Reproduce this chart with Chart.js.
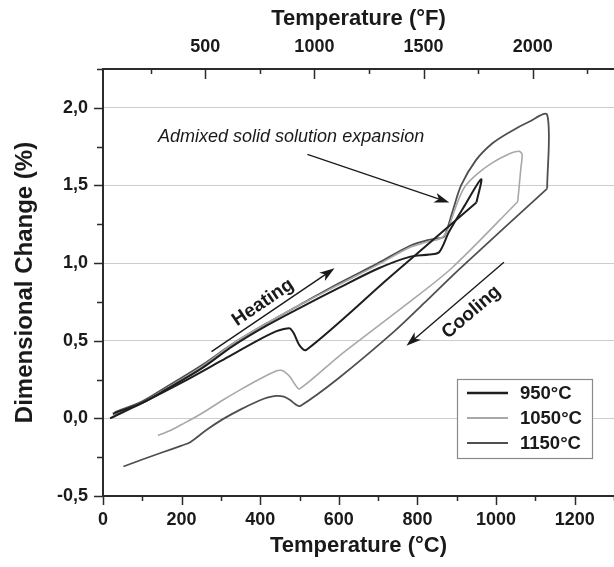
<!DOCTYPE html>
<html>
<head>
<meta charset="utf-8">
<script src="https://cdn.jsdelivr.net/npm/chart.js@4.4.1/dist/chart.umd.min.js"></script>
<style>
  html, body { margin: 0; padding: 0; background: #fff; }
</style>
</head>
<body>
<canvas id="chart-dil" width="614" height="567"></canvas>
<script>
// values: temperature (°C) and dimensional change (%)
const heat950T = [25, 100, 160, 250, 330, 415, 500, 600, 700, 780, 830, 855, 880, 920, 962, 950];
const heat950D = [0.03, 0.10, 0.185, 0.32, 0.465, 0.595, 0.71, 0.84, 0.965, 1.04, 1.055, 1.07, 1.20, 1.37, 1.54, 1.39];
const cool950T = [950, 730, 517, 500, 485, 475, 460, 440, 400, 300, 200, 100, 18];
const cool950D = [1.39, 0.91, 0.44, 0.47, 0.55, 0.58, 0.575, 0.56, 0.51, 0.37, 0.23, 0.10, 0.0];

const heat1050T = [25, 100, 160, 250, 330, 415, 500, 600, 700, 780, 830, 860, 876, 900, 920, 950, 990, 1030, 1058, 1066, 1063, 1055];
const heat1050D = [0.02, 0.10, 0.19, 0.33, 0.48, 0.61, 0.73, 0.86, 0.99, 1.10, 1.14, 1.16, 1.21, 1.38, 1.49, 1.57, 1.645, 1.70, 1.72, 1.70, 1.61, 1.395];
const cool1050T = [1055, 888, 775, 600, 500, 488, 475, 462, 453, 440, 400, 350, 300, 250, 200, 170, 140];
const cool1050D = [1.395, 0.97, 0.74, 0.40, 0.19, 0.22, 0.27, 0.30, 0.31, 0.305, 0.255, 0.185, 0.11, 0.03, -0.04, -0.08, -0.11];

const heat1150T = [30, 100, 160, 250, 330, 415, 500, 600, 700, 780, 830, 855, 868, 889, 911, 948, 990, 1032, 1084, 1130, 1130];
const heat1150D = [0.04, 0.11, 0.20, 0.34, 0.48, 0.61, 0.73, 0.87, 1.00, 1.11, 1.15, 1.16, 1.17, 1.33, 1.50, 1.66, 1.77, 1.84, 1.91, 1.955, 1.48];
const cool1150T = [1130, 906, 816, 741, 600, 502, 490, 475, 460, 441, 420, 398, 348, 305, 263, 221, 200, 150, 100, 52];
const cool1150D = [1.48, 0.96, 0.74, 0.56, 0.26, 0.08, 0.09, 0.12, 0.14, 0.145, 0.135, 0.115, 0.055, -0.005, -0.075, -0.155, -0.175, -0.22, -0.265, -0.31];

const seriesNames = ['950°C', '1050°C', '1150°C'];
const seriesColors = ['#1e1e1e', '#a8a8a8', '#4f4f4f'];
const seriesWidths = [2, 1.6, 1.8];

// top axis in °F
const fahrenheitTicks = [250, 500, 750, 1000, 1250, 1500, 1750, 2000, 2250];

const FONT = "'Liberation Sans', Arial, sans-serif";
const INK = '#1a1a1a';

const toPoints = (t, d) => t.map((v, i) => ({ x: v, y: d[i] }));

function curve(i, t, d) {
    return {
        label: seriesNames[i],
        data: toPoints(t, d),
        borderColor: seriesColors[i],
        borderWidth: seriesWidths[i],
        showLine: true,
        pointRadius: 0,
        tension: 0.3,
        fill: false,
        xAxisID: 'x',
        yAxisID: 'y'
    };
}

const isMajorY = v => Math.abs(v * 2 - Math.round(v * 2)) < 1e-6;

// tick marks, major ones longer
const axisTicks = {
    id: 'axisTicks',
    afterDraw(chart) {
        const { ctx, chartArea: a, scales: { x, x2, y } } = chart;
        ctx.save();
        ctx.strokeStyle = '#2b2b2b';
        ctx.lineWidth = 1.5;
        ctx.beginPath();
        x.ticks.forEach(t => {
            const px = Math.round(x.getPixelForValue(t.value)) + 0.5;
            const len = t.value % 200 === 0 ? 9 : 5;
            ctx.moveTo(px, a.bottom);
            ctx.lineTo(px, a.bottom + len);
        });
        x2.ticks.forEach(t => {
            const px = Math.round(x2.getPixelForValue(t.value)) + 0.5;
            const len = t.value % 500 === 0 ? 10 : 5;
            ctx.moveTo(px, a.top);
            ctx.lineTo(px, a.top + len);
        });
        y.ticks.forEach(t => {
            const py = Math.round(y.getPixelForValue(t.value)) + 0.5;
            const len = isMajorY(t.value) ? 9 : 6;
            ctx.moveTo(a.left, py);
            ctx.lineTo(a.left - len, py);
        });
        ctx.stroke();
        ctx.restore();
    }
};

function arrow(ctx, x0, y0, x1, y1) {
    const ang = Math.atan2(y1 - y0, x1 - x0);
    ctx.beginPath();
    ctx.moveTo(x0, y0);
    ctx.lineTo(x1 - 9 * Math.cos(ang), y1 - 9 * Math.sin(ang));
    ctx.stroke();
    ctx.save();
    ctx.translate(x1, y1);
    ctx.rotate(ang);
    ctx.beginPath();
    ctx.moveTo(0, 0);
    ctx.lineTo(-15, -5);
    ctx.lineTo(-11, 0);
    ctx.lineTo(-15, 5);
    ctx.closePath();
    ctx.fill();
    ctx.restore();
}

// arrows and labels inside the plot
const notes = {
    id: 'notes',
    afterDatasetsDraw(chart) {
        const { ctx, scales: { x, y } } = chart;
        const P = (t, v) => [x.getPixelForValue(t), y.getPixelForValue(v)];
        ctx.save();
        ctx.strokeStyle = INK;
        ctx.fillStyle = INK;
        ctx.lineWidth = 1.4;

        // heating
        const h0 = P(276, 0.43), h1 = P(589, 0.966);
        arrow(ctx, h0[0], h0[1], h1[0], h1[1]);
        const hc = P(407, 0.746);
        ctx.save();
        ctx.translate(hc[0], hc[1]);
        ctx.rotate(Math.atan2(h1[1] - h0[1], h1[0] - h0[0]));
        ctx.font = 'bold 19px ' + FONT;
        ctx.textAlign = 'center';
        ctx.textBaseline = 'middle';
        ctx.fillText('Heating', 0, 0);
        ctx.restore();

        // cooling
        const c0 = P(1020, 1.006), c1 = P(772, 0.467);
        arrow(ctx, c0[0], c0[1], c1[0], c1[1]);
        const cc = P(937, 0.684);
        ctx.save();
        ctx.translate(cc[0], cc[1]);
        ctx.rotate(Math.atan2(c0[1] - c1[1], c0[0] - c1[0]));
        ctx.font = 'bold 19px ' + FONT;
        ctx.textAlign = 'center';
        ctx.textBaseline = 'middle';
        ctx.fillText('Cooling', 0, 0);
        ctx.restore();

        // admixed solid solution expansion
        const a0 = P(520, 1.70), a1 = P(881, 1.39);
        ctx.lineWidth = 1.2;
        arrow(ctx, a0[0], a0[1], a1[0], a1[1]);
        const at = P(140, 1.81);
        ctx.font = 'italic 18px ' + FONT;
        ctx.textAlign = 'left';
        ctx.textBaseline = 'middle';
        ctx.fillText('Admixed solid solution expansion', at[0], at[1]);
        ctx.restore();
    }
};

// legend box in the lower right
const boxLegend = {
    id: 'boxLegend',
    afterDraw(chart) {
        const { ctx, chartArea: a } = chart;
        const bx = a.right - 157, by = a.bottom - 117, bw = 135, bh = 79;
        ctx.save();
        ctx.fillStyle = '#fff';
        ctx.fillRect(bx, by, bw, bh);
        ctx.strokeStyle = '#8a8a8a';
        ctx.lineWidth = 1.2;
        ctx.strokeRect(bx + 0.5, by + 0.5, bw, bh);
        ctx.font = 'bold 18.5px ' + FONT;
        ctx.textBaseline = 'middle';
        ctx.textAlign = 'left';
        seriesNames.forEach((name, i) => {
            const ly = by + 14 + i * 25;
            ctx.strokeStyle = seriesColors[i];
            ctx.lineWidth = seriesWidths[i] + 0.4;
            ctx.beginPath();
            ctx.moveTo(bx + 10, ly);
            ctx.lineTo(bx + 51, ly);
            ctx.stroke();
            ctx.fillStyle = INK;
            ctx.fillText(name, bx + 63, ly + 1);
        });
        ctx.restore();
    }
};

// fixed box sizes so the plot area sits where it does in the figure
function fixHorizontal(h) {
    return s => {
        s.height = h;
        s.paddingLeft = 0;
        s.paddingRight = 0;
    };
}

let chartDil = document.getElementById('chart-dil').getContext('2d');

let dilChart = new Chart(chartDil, {
    type: 'scatter',
    data: {
        datasets: [
            curve(0, heat950T, heat950D),
            curve(0, cool950T, cool950D),
            curve(1, heat1050T, heat1050D),
            curve(1, cool1050T, cool1050D),
            curve(2, heat1150T, heat1150D),
            curve(2, cool1150T, cool1150D)
        ]
    },
    options: {
        responsive: false,
        animation: false,
        layout: { padding: 0 },
        plugins: {
            legend: { display: false },
            tooltip: { enabled: false }
        },
        scales: {
            x: {
                type: 'linear',
                position: 'bottom',
                min: 0,
                max: 1300,
                afterFit: fixHorizontal(71),
                ticks: {
                    stepSize: 100,
                    autoSkip: false,
                    maxRotation: 0,
                    padding: 13,
                    color: INK,
                    font: { family: FONT, size: 18, weight: 'bold' },
                    callback: v => (v % 200 === 0 ? v : '')
                },
                grid: { display: false, drawTicks: false },
                border: { display: true, color: '#2b2b2b', width: 2 },
                title: {
                    display: true,
                    text: 'Temperature (°C)',
                    color: INK,
                    font: { family: FONT, size: 22, weight: 'bold' },
                    padding: { top: 0, bottom: 8 }
                }
            },
            x2: {
                type: 'linear',
                position: 'top',
                min: 32,
                max: 2372,
                afterFit: fixHorizontal(69),
                afterBuildTicks: s => { s.ticks = fahrenheitTicks.map(v => ({ value: v })); },
                ticks: {
                    autoSkip: false,
                    maxRotation: 0,
                    padding: 11,
                    color: INK,
                    font: { family: FONT, size: 18, weight: 'bold' },
                    callback: v => (v % 500 === 0 ? v : '')
                },
                grid: { display: false, drawTicks: false },
                border: { display: true, color: '#2b2b2b', width: 2 },
                title: {
                    display: true,
                    text: 'Temperature (°F)',
                    color: INK,
                    font: { family: FONT, size: 22, weight: 'bold' },
                    padding: { top: 6, bottom: 0 }
                }
            },
            y: {
                type: 'linear',
                position: 'left',
                min: -0.5,
                max: 2.25,
                afterFit: s => {
                    s.width = 103;
                    s.paddingTop = 0;
                    s.paddingBottom = 0;
                },
                ticks: {
                    stepSize: 0.25,
                    autoSkip: false,
                    padding: 15,
                    color: INK,
                    font: { family: FONT, size: 18, weight: 'bold' },
                    callback: v => (isMajorY(v) ? v.toFixed(1).replace('.', ',') : '')
                },
                grid: {
                    drawTicks: false,
                    lineWidth: 1,
                    color: c => (c.tick && isMajorY(c.tick.value) && c.tick.value > -0.4 ? '#cdcdcd' : 'rgba(0,0,0,0)')
                },
                border: { display: true, color: '#2b2b2b', width: 2 },
                title: {
                    display: true,
                    text: 'Dimensional Change (%)',
                    color: INK,
                    font: { family: FONT, size: 24, weight: 'bold' },
                    padding: { top: 11, bottom: 0 }
                }
            }
        }
    },
    plugins: [axisTicks, notes, boxLegend]
});
</script>
</body>
</html>
